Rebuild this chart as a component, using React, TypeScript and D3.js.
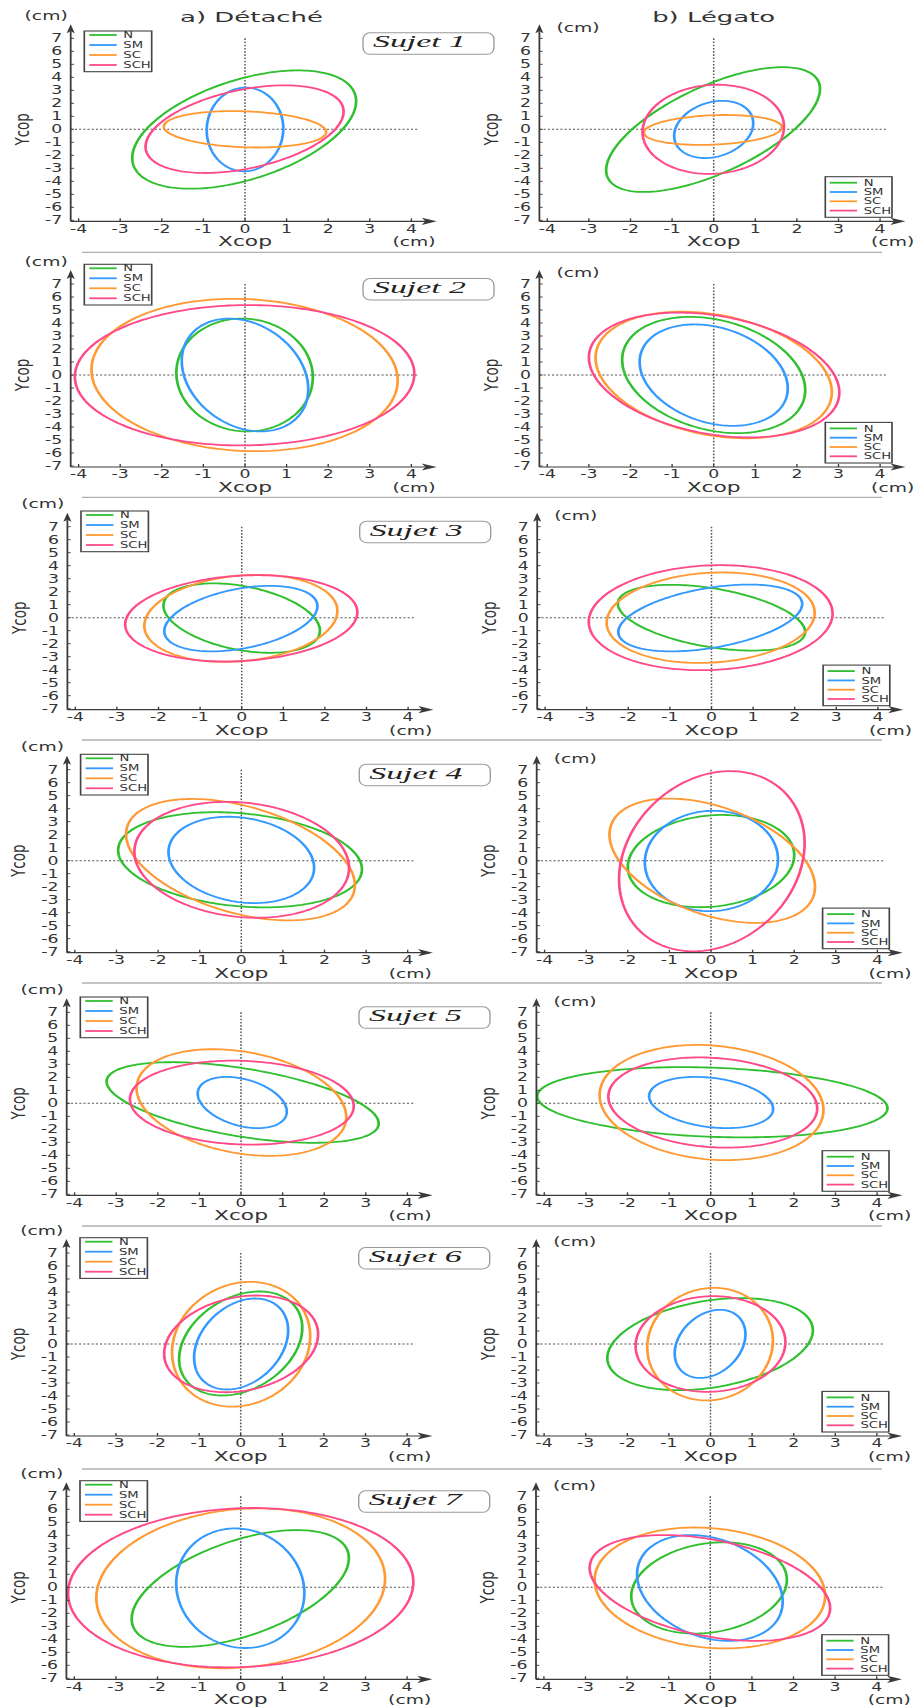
import React from "react";
import * as d3 from "d3";

// ---------- data ----------
const categories = ["N", "SM", "SC", "SCH"];
const palette = ["#2fbf2f", "#3399ff", "#ff9933", "#ff4a8a"];
const subjectLabels = ["Sujet 1", "Sujet 2", "Sujet 3", "Sujet 4", "Sujet 5", "Sujet 6", "Sujet 7"];
const columnTitles = ["a) Détaché", "b) Légato"];
const xTickValues = [-4, -3, -2, -1, 0, 1, 2, 3, 4];
const yTickValues = [-7, -6, -5, -4, -3, -2, -1, 0, 1, 2, 3, 4, 5, 6, 7];

// ellipse per category (N, SM, SC, SCH): [centerX, centerY, halfExtentX, halfExtentY, tilt correlation]
const sujet1Detache = [[-0.02, -0.02, 2.69, 4.55, 0.48], [0, -0.01, 0.92, 3.22, 0.02], [0, 0, 1.95, 1.4, -0.15], [-0.01, 0.01, 2.38, 3.37, 0.4]];
const sujet1Legato = [[-0.015, -0.02, 2.57, 4.8, 0.65], [0, -0.01, 0.95, 2.2, 0.22], [-0.02, -0.05, 1.66, 1.15, 0.18], [-0.01, 0, 1.7, 3.43, 0.06]];
const sujet2Detache = [[-0.01, 0, 1.64, 4.34, -0.04], [0, 0, 1.52, 4.34, -0.25], [-0.01, 0, 3.68, 5.86, -0.07], [-0.01, -0.02, 4.08, 5.4, 0.02]];
const sujet2Legato = [[0, 0, 2.2, 4.47, -0.26], [0, -0.01, 1.78, 3.9, -0.26], [0, 0, 2.84, 4.87, -0.27], [0.01, 0, 3.01, 4.8, -0.28]];
const sujet3Detache = [[0, -0.03, 1.88, 2.67, -0.36], [-0.02, -0.07, 1.84, 2.52, 0.38], [-0.02, -0.05, 2.32, 3.35, 0.17], [-0.01, -0.05, 2.79, 3.32, 0.14]];
const sujet3Legato = [[0, 0, 2.25, 2.53, -0.43], [-0.03, -0.02, 2.21, 2.57, 0.42], [-0.02, 0, 2.5, 3.48, 0.11], [-0.02, 0, 2.93, 4.04, 0.08]];
const sujet4Detache = [[-0.03, 0.07, 2.93, 3.66, -0.2], [0, 0.06, 1.75, 3.32, -0.18], [-0.02, 0.08, 2.75, 4.67, -0.42], [0.01, 0.07, 2.58, 4.46, -0.14]];
const sujet4Legato = [[0, -0.03, 2.0, 3.55, 0.13], [0.01, -0.02, 1.6, 3.86, 0.03], [0.03, 0, 2.47, 4.78, -0.42], [0.02, -0.04, 2.23, 6.93, 0.2]];
const sujet5Detache = [[0.04, 0.06, 3.27, 3.1, -0.52], [0.03, 0.06, 1.07, 1.97, -0.35], [0.01, 0.06, 2.52, 4.1, -0.27], [0.02, 0.05, 2.69, 3.23, -0.08]];
const sujet5Legato = [[0.04, 0.08, 4.21, 2.7, -0.17], [0.01, 0.06, 1.49, 1.97, -0.25], [0.02, 0.06, 2.69, 4.43, -0.13], [0.05, 0.06, 2.51, 3.47, -0.13]];
const sujet6Detache = [[0, 0.04, 1.48, 4.0, 0.3], [0.01, 0, 1.13, 3.5, 0.3], [0.01, -0.02, 1.66, 4.8, 0.13], [0.01, 0.01, 1.85, 3.72, 0.2]];
const sujet6Legato = [[-0.01, -0.01, 2.47, 3.54, 0.3], [-0.01, 0.01, 0.85, 2.62, 0.28], [-0.01, -0.01, 1.51, 4.33, 0.06], [0, 0, 1.8, 3.68, 0.04]];
const sujet7Detache = [[-0.01, -0.09, 2.61, 4.49, 0.52], [-0.01, -0.07, 1.54, 4.6, -0.08], [0, -0.08, 3.47, 6.15, 0.12], [0, -0.03, 4.15, 6.13, 0.07]];
const sujet7Legato = [[-0.03, -0.05, 1.87, 3.51, 0.18], [-0.01, -0.05, 1.75, 4.07, -0.26], [-0.01, -0.05, 2.77, 4.65, -0.13], [-0.01, -0.05, 2.89, 4.07, -0.38]];

const detacheData = [sujet1Detache, sujet2Detache, sujet3Detache, sujet4Detache, sujet5Detache, sujet6Detache, sujet7Detache];
const legatoData = [sujet1Legato, sujet2Legato, sujet3Legato, sujet4Legato, sujet5Legato, sujet6Legato, sujet7Legato];

// ---------- layout (page pixels) ----------
const W = 917;
const H = 1708;
const SX = 1.5; // the figure is stretched horizontally
const rowY0 = [129.3, 375, 617.7, 860.7, 1103.3, 1344, 1587.3];
const leftX0 = [245, 245, 241.7, 241.3, 241, 240.7, 240.7];
const rightX0 = [713.7, 713.7, 711.5, 711, 710.7, 710.5, 710.3];
const legendDy = [-98.3, -110.7, -106.7, -106.4, -106.3, -106.3, -106.6];
const separatorY = [252.3, 497.3, 740, 983, 1226, 1469];
const X_HALF = 166.4; // px for 4 cm
const Y_HALF = 91; // px for 7 cm

const FONT = "'DejaVu Sans', Verdana, sans-serif";
const TEXT = "#333";
const AXIS = "#3a3a3a";

const u = (px: number) => px / SX;

function ellipsePoints(p: number[]) {
  const [cx, cy, rx, ry, k] = p;
  const phi = Math.acos(k);
  return d3.range(0, 200).map((i) => {
    const t = (i / 200) * Math.PI * 2;
    return [cx + rx * Math.cos(t), cy + ry * Math.cos(t - phi)] as [number, number];
  });
}

function Legend({ bx, by, w, h, first, step, l1, l2, tx }: any) {
  return (
    <g>
      <rect x={u(bx)} y={by} width={u(w)} height={h} fill="#fff" stroke="#444" strokeWidth={1.1} />
      {categories.map((c, i) => {
        const yy = by + first + i * step;
        return (
          <g key={c}>
            <line x1={u(bx + l1)} x2={u(bx + l2)} y1={yy} y2={yy} stroke={palette[i]} strokeWidth={1.8} />
            <text x={u(bx + tx)} y={yy + 3.2} fontSize={8.8} fill={TEXT}>{c}</text>
          </g>
        );
      })}
    </g>
  );
}

function Panel({ row, side, data }: { row: number; side: "left" | "right"; data: number[][] }) {
  const x0 = side === "left" ? leftX0[row] : rightX0[row];
  const y0 = rowY0[row];
  const xs = d3.scaleLinear().domain([-4, 4]).range([u(x0 - X_HALF), u(x0 + X_HALF)]);
  const ys = d3.scaleLinear().domain([-7, 7]).range([y0 + Y_HALF, y0 - Y_HALF]);
  const axisX = u(x0 - 174.3);
  const axisY = y0 + 92;
  const line = d3
    .line<[number, number]>()
    .x((d) => xs(d[0]))
    .y((d) => ys(d[1]))
    .curve(d3.curveLinearClosed);

  const xTip = u(x0 + 191.7);
  const yTip = y0 - 105;

  return (
    <g>
      {/* dotted zero lines */}
      <line x1={axisX} x2={u(x0 + 173.3)} y1={ys(0)} y2={ys(0)} stroke="#555" strokeWidth={1} strokeDasharray="1.4,1.4" />
      <line x1={xs(0)} x2={xs(0)} y1={ys(7)} y2={axisY} stroke="#555" strokeWidth={1} strokeDasharray="1.6,1.6" />

      {/* ellipses */}
      {data.map((p, i) => (
        <path key={i} d={line(ellipsePoints(p)) || ""} fill="none" stroke={palette[i]} strokeWidth={1.8} />
      ))}

      {/* axes */}
      <line x1={axisX} x2={axisX} y1={axisY} y2={yTip + 7} stroke={AXIS} strokeWidth={1.2} />
      <path
        d={`M${axisX},${yTip} L${axisX - 2.7},${yTip + 9} L${axisX},${yTip + 7} L${axisX + 2.7},${yTip + 9} Z`}
        fill={AXIS}
      />
      <line x1={axisX} x2={xTip - 7} y1={axisY} y2={axisY} stroke={AXIS} strokeWidth={1.2} />
      <path
        d={`M${xTip},${axisY} L${xTip - 10},${axisY - 3.6} L${xTip - 7.5},${axisY} L${xTip - 10},${axisY + 3.6} Z`}
        fill={AXIS}
      />
      {xTickValues.map((t) => (
        <g key={"x" + t}>
          <line x1={xs(t)} x2={xs(t)} y1={axisY} y2={axisY - 3} stroke={AXIS} strokeWidth={0.9} />
          <text x={xs(t)} y={axisY + 11.5} fontSize={11.5} textAnchor="middle" fill={TEXT}>
            {t}
          </text>
        </g>
      ))}
      {yTickValues.map((t) => (
        <g key={"y" + t}>
          <line x1={axisX} x2={axisX + 2.2} y1={ys(t)} y2={ys(t)} stroke={AXIS} strokeWidth={0.9} />
          <text x={axisX - u(8.5)} y={ys(t) + 4.2} fontSize={11.5} textAnchor="end" fill={TEXT}>
            {t}
          </text>
        </g>
      ))}

      {/* axis labels */}
      <text x={u(x0)} y={y0 + 117} fontSize={14.5} textAnchor="middle" fill={TEXT}>Xcop</text>
      <text x={u(x0 + (side === "left" ? 169 : 179))} y={y0 + 117} fontSize={12.5} textAnchor="middle" fill={TEXT}>(cm)</text>
      <text transform={`translate(${u(x0 - 216)},${y0}) rotate(-90)`} fontSize={13.5} textAnchor="middle" fill={TEXT}>Ycop</text>
      {side === "left" ? (
        <text x={axisX - 2} y={y0 - 109.3} fontSize={12.5} textAnchor="end" fill={TEXT}>(cm)</text>
      ) : (
        <text x={axisX + u(17)} y={y0 - 97.5} fontSize={12.5} textAnchor="start" fill={TEXT}>(cm)</text>
      )}

      {/* legend */}
      {side === "left" ? (
        <Legend bx={x0 - 160.7} by={y0 + legendDy[row]} w={67.4} h={40.7} first={4} step={10} l1={5} l2={32.4} tx={39} />
      ) : (
        <Legend bx={x0 + 111.6} by={y0 + 47.4} w={66.7} h={40.6} first={6} step={9.3} l1={4.4} l2={31.7} tx={38.4} />
      )}

      {/* subject box */}
      {side === "left" && (
        <g>
          <rect x={u(x0 + 118)} y={y0 - 96.5} width={u(131)} height={21.5} rx={4.5} ry={6.5} fill="#fff" stroke="#9a9a9a" strokeWidth={0.9} />
          <text
            x={u(x0 + 128)}
            y={y0 - 82}
            fontSize={17}
            fontFamily="'Liberation Serif', 'DejaVu Serif', serif"
            fontStyle="italic"
            textLength={u(93)}
            lengthAdjust="spacingAndGlyphs"
            fill="#222"
          >
            {subjectLabels[row]}
          </text>
        </g>
      )}
    </g>
  );
}

export default function App() {
  return (
    <svg
      width={W}
      height={H}
      viewBox={`0 0 ${W} ${H}`}
      style={{ position: "absolute", left: 0, top: 0, display: "block", background: "#fff" }}
      fontFamily={FONT}
    >
      <rect x={0} y={0} width={W} height={H} fill="#fff" />
      <g transform={`scale(${SX},1)`}>
        {separatorY.map((y, i) => (
          <line key={i} x1={u(82)} x2={u(882)} y1={y} y2={y} stroke="#b0b0b0" strokeWidth={1.3} />
        ))}
        <text x={u(251.5)} y={21.7} fontSize={14.6} textAnchor="middle" textLength={u(143)} lengthAdjust="spacingAndGlyphs" fill={TEXT}>
          {columnTitles[0]}
        </text>
        <text x={u(713.7)} y={21.7} fontSize={14.6} textAnchor="middle" textLength={u(123)} lengthAdjust="spacingAndGlyphs" fill={TEXT}>
          {columnTitles[1]}
        </text>
        {detacheData.map((d, r) => (
          <Panel key={"d" + r} row={r} side="left" data={d} />
        ))}
        {legatoData.map((d, r) => (
          <Panel key={"l" + r} row={r} side="right" data={d} />
        ))}
      </g>
    </svg>
  );
}
